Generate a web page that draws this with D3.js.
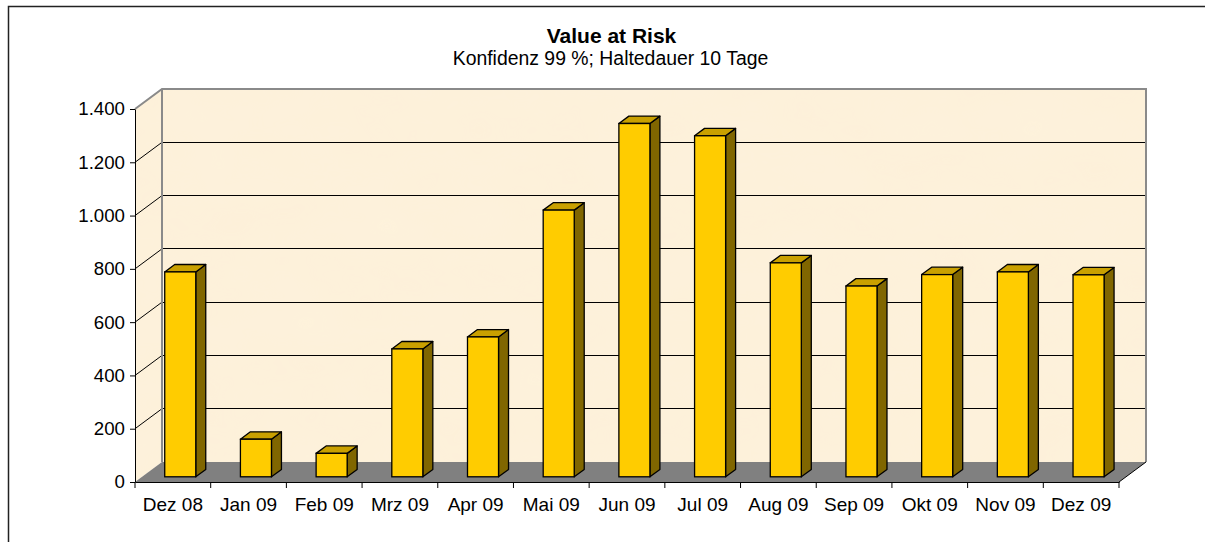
<!DOCTYPE html>
<html>
<head>
<meta charset="utf-8">
<script src="https://cdn.jsdelivr.net/npm/d3@7"></script>
<style>
  html, body { margin: 0; padding: 0; background: #fff; overflow: hidden; }
  svg { display: block; }
  text { font-family: "Liberation Sans", Arial, sans-serif; fill: #000; }
</style>
</head>
<body>
<svg id="chart" width="1205" height="543"></svg>
<script>
const categories = ["Dez 08","Jan 09","Feb 09","Mrz 09","Apr 09","Mai 09","Jun 09","Jul 09","Aug 09","Sep 09","Okt 09","Nov 09","Dez 09"];
const values = [769, 141, 88, 480, 525, 1001, 1326, 1280, 803, 716, 759, 769, 758];
const yTicks = [0, 200, 400, 600, 800, 1000, 1200, 1400];
const yTickLabels = ["0", "200", "400", "600", "800", "1.000", "1.200", "1.400"];
const titleText = "Value at Risk";
const subtitleText = "Konfidenz 99 %; Haltedauer 10 Tage";

const svg = d3.select("#chart");
const DX = 27, DY = -20;          // depth offset of the 3D box
const F1 = 0.26, F2 = 0.63;       // bar front / back depth fractions

const x = d3.scaleBand().domain(categories).range([135, 1119]).padding(0);
const y = d3.scaleLinear().domain([0, 1400]).range([482, 109]);

// texture filter
const defs = svg.append("defs");
const filt = defs.append("filter").attr("id", "paper").attr("x", 0).attr("y", 0).attr("width", 1).attr("height", 1);
filt.append("feTurbulence").attr("type", "fractalNoise").attr("baseFrequency", "0.012 0.02").attr("numOctaves", 3).attr("seed", 7).attr("result", "n");
filt.append("feColorMatrix").attr("in", "n").attr("type", "matrix")
  .attr("values", "0 0 0 0 0.99  0 0 0 0 0.92  0 0 0 0 0.76  0 0 0 0.3 0");
filt.append("feComposite").attr("in2", "SourceGraphic").attr("operator", "in");

// border (top + left)
svg.append("path").attr("d", "M8.5,542 L8.5,6.5 L1205,6.5").attr("fill", "none").attr("stroke", "#222").attr("stroke-width", 1.5);

// titles
svg.append("text").attr("x", 611.5).attr("y", 43.3).attr("text-anchor", "middle")
  .style("font-weight", "bold").style("font-size", "21px").text(titleText);
svg.append("text").attr("x", 610.5).attr("y", 64.7).attr("text-anchor", "middle")
  .style("font-size", "19.4px").text(subtitleText);

const x0 = x.range()[0], x1 = x.range()[1];
const yb = y(0), yt = y(1400);
const wallFill = "#FDF0D9";

// left wall
const leftWall = `M${x0},${yb} L${x0},${yt} L${x0+DX},${yt+DY} L${x0+DX},${yb+DY} Z`;
svg.append("path").attr("d", leftWall).attr("fill", wallFill);
svg.append("path").attr("d", leftWall).attr("fill", "#fff").attr("filter", "url(#paper)");
// back wall
svg.append("rect").attr("x", x0+DX).attr("y", yt+DY).attr("width", x1-x0).attr("height", yb-yt).attr("fill", wallFill);
svg.append("rect").attr("x", x0+DX).attr("y", yt+DY).attr("width", x1-x0).attr("height", yb-yt).attr("fill", "#fff").attr("filter", "url(#paper)");
// floor
svg.append("path").attr("d", `M${x0},${yb} L${x1},${yb} L${x1+DX},${yb+DY} L${x0+DX},${yb+DY} Z`).attr("fill", "#808080");

// gridlines
const grid = svg.append("g");
yTicks.filter(v => v > 0 && v < 1400).forEach(v => {
  grid.append("line").attr("x1", x0+DX).attr("x2", x1+DX).attr("y1", y(v)+DY).attr("y2", y(v)+DY)
    .attr("stroke", "#000").attr("stroke-width", 1).attr("shape-rendering", "crispEdges");
  grid.append("line").attr("x1", x0).attr("x2", x0+DX).attr("y1", y(v)).attr("y2", y(v)+DY)
    .attr("stroke", "#000").attr("stroke-width", 1);
});
// wall edges (gray)
svg.append("path")
  .attr("d", `M${x0},${yt} L${x0+DX},${yt+DY} L${x1+DX},${yt+DY} L${x1+DX},${yb+DY}`)
  .attr("fill", "none").attr("stroke", "#8a8a8a").attr("stroke-width", 2);
svg.append("line").attr("x1", x0+DX).attr("x2", x0+DX).attr("y1", yt+DY).attr("y2", yb+DY)
  .attr("stroke", "#8a8a8a").attr("stroke-width", 2);
// floor right diagonal edge
svg.append("line").attr("x1", x1).attr("y1", yb).attr("x2", x1+DX).attr("y2", yb+DY)
  .attr("stroke", "#000").attr("stroke-width", 1);

// bars
const bw = x.bandwidth() * 0.41;
const boff = x.bandwidth() * 0.30;
const fdx = DX * F1, fdy = DY * F1;
const bdx = DX * (F2 - F1), bdy = DY * (F2 - F1);
const bars = svg.append("g").selectAll("g").data(categories.map((c, i) => ({c, v: values[i]}))).join("g");
bars.each(function(d) {
  const g = d3.select(this);
  const L = x(d.c) + boff + fdx;
  const R = L + bw;
  const T = y(d.v) + fdy;
  const B = y(0) + fdy;
  g.append("path").attr("d", `M${R},${T} L${R+bdx},${T+bdy} L${R+bdx},${B+bdy} L${R},${B} Z`)
    .attr("fill", "#806600").attr("stroke", "#000").attr("stroke-width", 1.3).attr("stroke-linejoin", "round");
  g.append("path").attr("d", `M${L},${T} L${L+bdx},${T+bdy} L${R+bdx},${T+bdy} L${R},${T} Z`)
    .attr("fill", "#C9A000").attr("stroke", "#000").attr("stroke-width", 1.3).attr("stroke-linejoin", "round");
  g.append("rect").attr("x", L).attr("y", T).attr("width", bw).attr("height", B - T)
    .attr("fill", "#FFCC00").attr("stroke", "#000").attr("stroke-width", 1.3);
});

// y axis
const yAxis = d3.axisLeft(y).tickValues(yTicks).tickFormat((d, i) => yTickLabels[i])
  .tickSize(5).tickSizeOuter(0).tickPadding(5);
const gy = svg.append("g").attr("transform", `translate(${x0},0)`).call(yAxis);
gy.selectAll("text").style("font-size", "18.7px").style("font-family", "'Liberation Sans', Arial, sans-serif");
gy.selectAll("line,path").attr("stroke", "#000");

// x axis (labels at centers, ticks at boundaries)
const xAxis = d3.axisBottom(x).tickSize(0).tickSizeOuter(0).tickPadding(15.5);
const gx = svg.append("g").attr("transform", `translate(0,${yb})`).call(xAxis);
gx.selectAll("text").style("font-size", "19px").style("font-family", "'Liberation Sans', Arial, sans-serif");
gx.select("path.domain").attr("stroke", "#000");
const bounds = categories.map(c => x(c)).concat([x1]);
gx.selectAll("line.bnd").data(bounds).join("line").attr("class", "bnd")
  .attr("x1", d => d).attr("x2", d => d).attr("y1", 0).attr("y2", 6)
  .attr("stroke", "#000").attr("stroke-width", 1);
</script>
</body>
</html>
